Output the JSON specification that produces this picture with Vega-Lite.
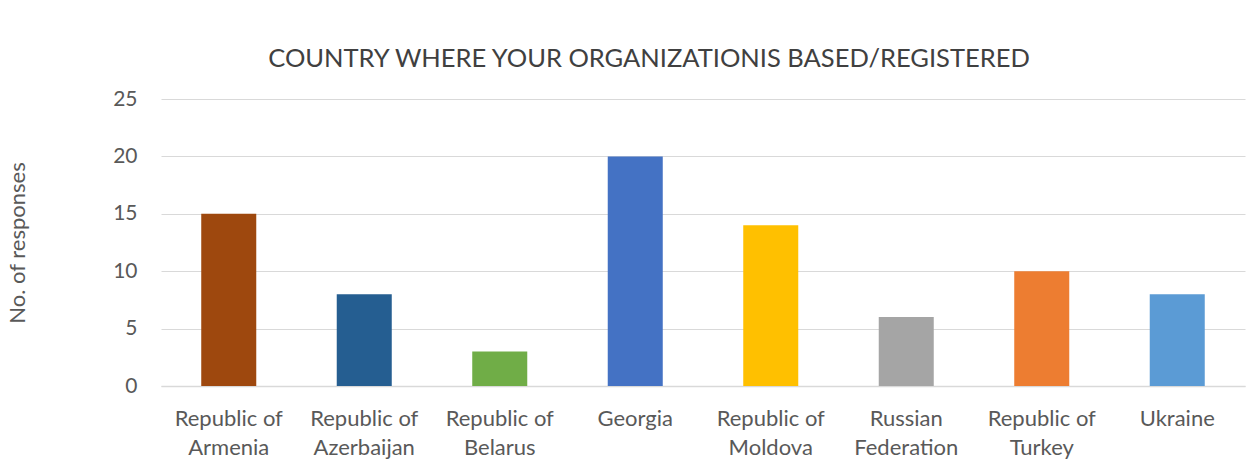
{
  "$schema": "https://vega.github.io/schema/vega-lite/v6.json",
  "autosize": {"type": "none"},
  "padding": {"left": 161, "top": 99, "right": 7, "bottom": 85},
  "width": 1084,
  "height": 287,
  "background": "white",
  "title": {
    "text": "COUNTRY WHERE YOUR ORGANIZATIONIS BASED/REGISTERED",
    "font": "Lato",
    "fontSize": 25.5,
    "fontWeight": "normal",
    "color": "#404040",
    "anchor": "middle",
    "dx": -54,
    "offset": 16
  },
  "data": {
    "values": [
      {"country": "Republic of Armenia", "responses": 15},
      {"country": "Republic of Azerbaijan", "responses": 8},
      {"country": "Republic of Belarus", "responses": 3},
      {"country": "Georgia", "responses": 20},
      {"country": "Republic of Moldova", "responses": 14},
      {"country": "Russian Federation", "responses": 6},
      {"country": "Republic of Turkey", "responses": 10},
      {"country": "Ukraine", "responses": 8}
    ]
  },
  "mark": {"type": "bar"},
  "encoding": {
    "x": {
      "field": "country",
      "type": "nominal",
      "sort": null,
      "scale": {"paddingInner": 0.594, "paddingOuter": 0.297},
      "axis": {
        "title": null,
        "labelAngle": 0,
        "labelFont": "Lato",
        "labelFontSize": 22,
        "labelColor": "#595959",
        "labelLineHeight": 29,
        "labelPadding": 22,
        "labelExpr": "split(replace(replace(datum.label, 'of ', 'of|'), 'Russian ', 'Russian|'), '|')",
        "ticks": false,
        "domainColor": "#d9d9d9",
        "domainWidth": 1.5
      }
    },
    "y": {
      "field": "responses",
      "type": "quantitative",
      "scale": {"domain": [0, 25]},
      "axis": {
        "title": "No. of responses",
        "titleFont": "Lato",
        "titleFontSize": 22,
        "titleFontWeight": "normal",
        "titleColor": "#595959",
        "titleX": -132,
        "values": [0, 5, 10, 15, 20, 25],
        "labelFont": "Lato",
        "labelFontSize": 21,
        "labelColor": "#595959",
        "labelPadding": 24,
        "ticks": false,
        "domain": false,
        "gridColor": "#d9d9d9",
        "gridWidth": 1
      }
    },
    "color": {
      "field": "country",
      "type": "nominal",
      "sort": null,
      "legend": null,
      "scale": {
        "domain": ["Republic of Armenia", "Republic of Azerbaijan", "Republic of Belarus", "Georgia", "Republic of Moldova", "Russian Federation", "Republic of Turkey", "Ukraine"],
        "range": ["#9E480E", "#255E91", "#70AD47", "#4472C4", "#FFC000", "#A5A5A5", "#ED7D31", "#5B9BD5"]
      }
    }
  },
  "config": {"view": {"stroke": null}}
}
